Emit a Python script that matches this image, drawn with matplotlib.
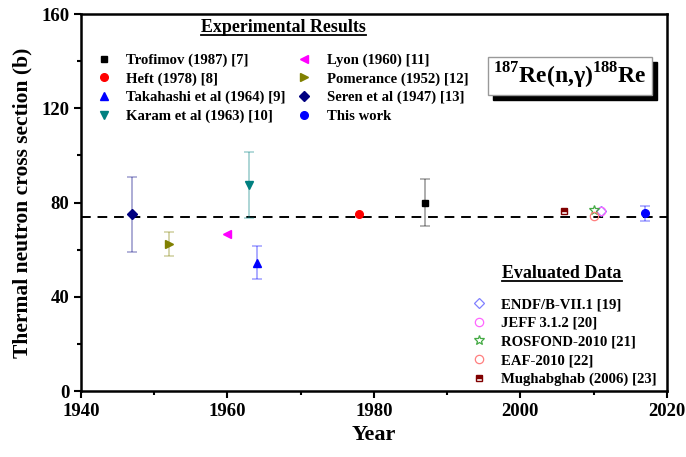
import matplotlib
matplotlib.use('Agg')
import matplotlib.pyplot as plt
import matplotlib.ticker as ticker
from matplotlib.lines import Line2D
from matplotlib.patches import Rectangle
from matplotlib.font_manager import FontProperties

plt.rcParams['font.family'] = 'Liberation Serif'
plt.rcParams['font.weight'] = 'bold'
plt.rcParams['mathtext.fontset'] = 'custom'
plt.rcParams['mathtext.rm'] = 'Liberation Serif:bold'
plt.rcParams['mathtext.bf'] = 'Liberation Serif:bold'

# experimental results
exp_labels = ['Trofimov (1987) [7]', 'Heft (1978) [8]', 'Takahashi et al (1964) [9]',
              'Karam et al (1963) [10]', 'Lyon (1960) [11]', 'Pomerance (1952) [12]',
              'Seren et al (1947) [13]', 'This work']
exp_years = [1987, 1978, 1964, 1963, 1960, 1952, 1947, 2017]
exp_values = [80, 75, 54.5, 87.5, 66.6, 62.5, 75, 75.4]
exp_errors = [10, 0, 7, 14, 0, 5, 16, 3.2]
exp_markers = ['s', 'o', '^', 'v', '<', '>', 'D', 'o']
exp_colors = ['black', 'red', 'blue', '#008080', 'magenta', '#808000', '#000080', 'blue']

# evaluated data
eval_labels = ['ENDF/B-VII.1 [19]', 'JEFF 3.1.2 [20]', 'ROSFOND-2010 [21]',
               'EAF-2010 [22]', 'Mughabghab (2006) [23]']
eval_years = [2011, 2011, 2010, 2010, 2006]
eval_values = [76.5, 76.4, 76.8, 74.5, 76.4]
eval_markers = ['D', 'o', '*', 'o', 's']
eval_colors = ['#8080ff', '#ff66ff', '#44aa44', '#ff7f7f', '#800000']

recommended = 74

fig = plt.figure(figsize=(6.86, 4.57), dpi=100)
ax = fig.add_axes([0.118, 0.1444, 0.854, 0.8246])

ax.axhline(recommended, color='black', ls=(0, (5, 3.5)), lw=1.4, zorder=1)

exp_sizes = {'s': 5, 'o': 5.5, 'D': 5, '^': 6, 'v': 6, '<': 6, '>': 6}
exp_handles = []
for lab, x, y, e, m, c in zip(exp_labels, exp_years, exp_values, exp_errors,
                              exp_markers, exp_colors):
    if e > 0:
        ax.errorbar(x, y, yerr=e, fmt='none', ecolor=c, alpha=0.35,
                    elinewidth=1.3, capsize=3.5, capthick=1.2, zorder=2)
    h, = ax.plot(x, y, ls='none', marker=m, color=c, ms=exp_sizes[m], label=lab, zorder=3)
    exp_handles.append(h)

eval_handles = []
for lab, x, y, m, c in zip(eval_labels, eval_years, eval_values, eval_markers, eval_colors):
    if m == 's':
        h, = ax.plot(x, y, ls='none', marker=m, ms=5, color=c, fillstyle='top',
                     markerfacecoloralt='white', mew=1, label=lab, zorder=3)
    else:
        ms = {'*': 7, 'D': 5, 'o': 6}[m]
        h, = ax.plot(x, y, ls='none', marker=m, ms=ms, mfc='none', mec=c, mew=0.9,
                     label=lab, zorder=3)
    eval_handles.append(h)

ax.set_xlim(1940, 2020)
ax.set_ylim(0, 160)
ax.xaxis.set_major_locator(ticker.MultipleLocator(20))
ax.xaxis.set_minor_locator(ticker.MultipleLocator(10))
ax.yaxis.set_major_locator(ticker.MultipleLocator(40))
ax.yaxis.set_minor_locator(ticker.MultipleLocator(20))
ax.tick_params(which='both', direction='out', width=1.5, labelsize=13.5)
ax.tick_params(which='major', length=5)
ax.tick_params(which='minor', length=3)
for s in ax.spines.values():
    s.set_linewidth(1.8)

ax.set_xlabel('Year', fontsize=16, fontweight='bold', labelpad=4)
ax.set_ylabel('Thermal neutron cross section (b)', fontsize=15.5, fontweight='bold', labelpad=6)

lp = FontProperties(family='Liberation Serif', weight='bold', size=10.6)
leg1 = ax.legend(handles=exp_handles, ncol=2, loc='upper left', bbox_to_anchor=(0.026, 0.896),
                 frameon=False, prop=lp, handlelength=1, handletextpad=1.05,
                 columnspacing=0.75, labelspacing=0.36, borderpad=0, borderaxespad=0)
ax.add_artist(leg1)
leg2 = ax.legend(handles=eval_handles, loc='upper left', bbox_to_anchor=(0.667, 0.247),
                 frameon=False, prop=lp, handlelength=1, handletextpad=1.0,
                 labelspacing=0.36, borderpad=0, borderaxespad=0)

t1 = ax.text(0.345, 0.9655, 'Experimental Results', transform=ax.transAxes,
             ha='center', va='center', fontsize=12.9, fontweight='bold')
t2 = ax.text(0.821, 0.313, 'Evaluated Data', transform=ax.transAxes,
             ha='center', va='center', fontsize=12.9, fontweight='bold')

# reaction box with shadow
bx, by, bw, bh = 0.695, 0.785, 0.279, 0.101
ax.add_patch(Rectangle((bx + 0.009, by - 0.013), bw, bh, transform=ax.transAxes,
                       facecolor='black', edgecolor='black', zorder=4))
ax.add_patch(Rectangle((bx, by), bw, bh, transform=ax.transAxes,
                       facecolor='white', edgecolor='#999999', lw=1, zorder=5))
ax.text(bx + bw / 2, by + bh / 2, r'$^{187}$Re(n,γ)$^{188}$Re', transform=ax.transAxes,
        ha='center', va='center', fontsize=17, fontweight='bold', zorder=6)

# underline the legend titles
fig.canvas.draw()
inv = fig.transFigure.inverted()
for t in (t1, t2):
    bb = t.get_window_extent()
    (x0, y0), (x1, _) = inv.transform([(bb.x0, bb.y0 + 1), (bb.x1, bb.y1)])
    fig.add_artist(Line2D([x0, x1], [y0, y0], color='black', lw=1.3,
                          transform=fig.transFigure))

fig.savefig('out.png', dpi=100)
